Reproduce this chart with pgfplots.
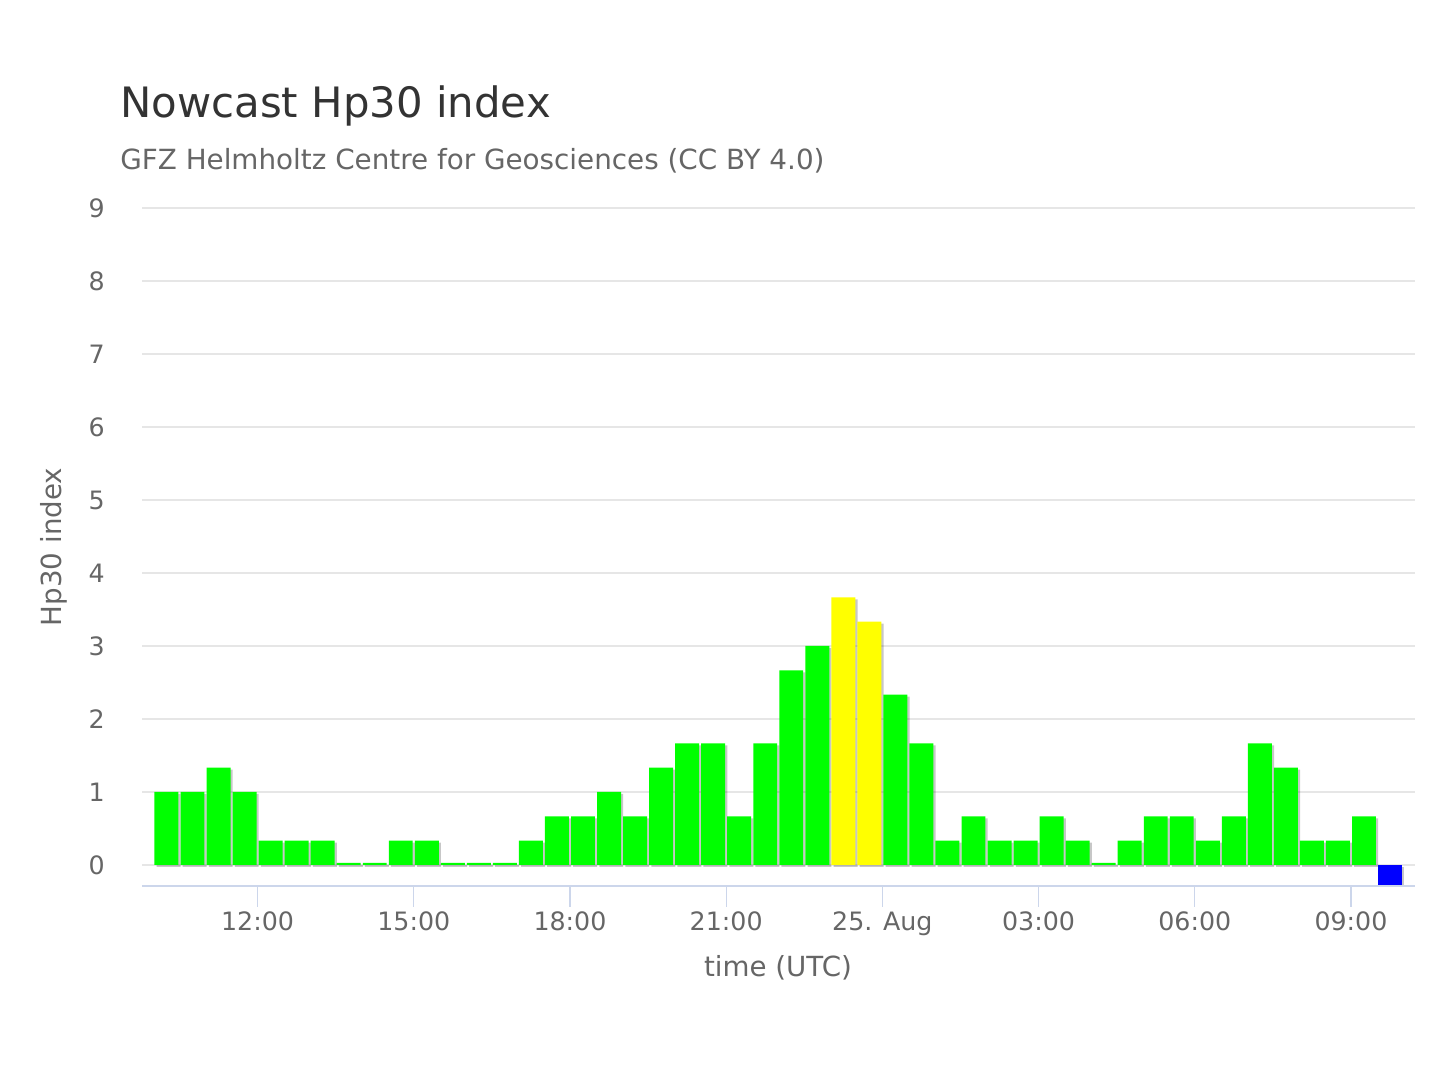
\documentclass[border=0pt]{standalone}
\usepackage{pgfplots}
\pgfplotsset{compat=1.18}
\usepackage{pgfplotstable}
\usepackage{fontspec}
\setmainfont{DejaVu Sans}
\definecolor{titlec}{HTML}{333333}
\definecolor{labc}{HTML}{666666}
\definecolor{gridc}{HTML}{E6E6E6}
\definecolor{axc}{HTML}{CCD6EB}
\definecolor{hpgreen}{HTML}{00FF00}
\definecolor{hpyellow}{HTML}{FFFF00}
\definecolor{hpblue}{HTML}{0000FF}

\pgfplotstableread{
x y
10.25 1
10.75 1
11.25 1.333
11.75 1
12.25 0.333
12.75 0.333
13.25 0.333
13.75 0.03
14.25 0.03
14.75 0.333
15.25 0.333
15.75 0.03
16.25 0.03
16.75 0.03
17.25 0.333
17.75 0.667
18.25 0.667
18.75 1
19.25 0.667
19.75 1.333
20.25 1.667
20.75 1.667
21.25 0.667
21.75 1.667
22.25 2.667
22.75 3
24.25 2.333
24.75 1.667
25.25 0.333
25.75 0.667
26.25 0.333
26.75 0.333
27.25 0.667
27.75 0.333
28.25 0.03
28.75 0.333
29.25 0.667
29.75 0.667
30.25 0.333
30.75 0.667
31.25 1.667
31.75 1.333
32.25 0.333
32.75 0.333
33.25 0.667
}\greendata

\pgfplotstableread{
x y
23.25 3.667
23.75 3.333
}\yellowdata

\pgfplotstableread{
x y
33.75 -0.27
}\bluedata

\begin{document}
\begin{tikzpicture}
\path[use as bounding box] (0,0) rectangle (720bp,540bp);
\begin{axis}[
  at={(71bp,97bp)}, anchor=south west, scale only axis,
  width=636.5bp, height=339bp,
  xmin=9.78, xmax=34.23, ymin=-0.288, ymax=9,
  axis line style={draw=none},
  ymajorgrids, major grid style={draw=gridc, line width=0.6bp},
  ytick={0,1,2,3,4,5,6,7,8,9},
  ytick style={draw=none},
  xtick={12,15,18,21,24,27,30,33},
  xticklabels={12:00,15:00,18:00,21:00,25. Aug,03:00,06:00,09:00},
  xtick pos=left,
  tick align=outside,
  major tick length=10.5bp,
  xtick style={draw=axc, line width=0.6bp},
  /pgf/number format/assume math mode=true,
  xticklabel style={font=\fontsize{12.7}{15}\selectfont, text=labc, anchor=base, inner sep=0pt, yshift=-11.5bp},
  yticklabel style={font=\fontsize{12.7}{15}\selectfont, text=labc, anchor=east, inner sep=0pt, xshift=-8bp},
  ybar, bar width=0.46, bar shift=0pt,
]
\addplot[draw=none, fill=black, fill opacity=0.22, xshift=1.1bp, yshift=-1bp] table[x=x,y=y] {\greendata};
\addplot[draw=none, fill=black, fill opacity=0.22, xshift=1.1bp, yshift=-1bp] table[x=x,y=y] {\yellowdata};
\addplot[draw=none, fill=black, fill opacity=0.22, xshift=1.1bp, yshift=-1bp] table[x=x,y=y] {\bluedata};
\addplot[draw=none, fill=hpgreen] table[x=x,y=y] {\greendata};
\addplot[draw=none, fill=hpyellow] table[x=x,y=y] {\yellowdata};
\addplot[draw=none, fill=hpblue] table[x=x,y=y] {\bluedata};
\end{axis}
\draw[axc, line width=0.7bp] (71bp,97bp) -- (707.5bp,97bp);
\node[anchor=base west, inner sep=0pt, text=titlec, font=\fontsize{21}{25}\selectfont] at (60bp,481bp) {Nowcast Hp30 index};
\node[anchor=base west, inner sep=0pt, text=labc, font=\fontsize{13.95}{16}\selectfont] at (60bp,455bp) {GFZ Helmholtz Centre for Geosciences (CC BY 4.0)};
\node[anchor=base, inner sep=0pt, text=labc, font=\fontsize{13.9}{16}\selectfont] at (389bp,51.5bp) {time (UTC)};
\node[anchor=base, rotate=90, inner sep=0pt, text=labc, font=\fontsize{13.9}{16}\selectfont] at (30.5bp,266.5bp) {Hp30 index};
\end{tikzpicture}
\end{document}
